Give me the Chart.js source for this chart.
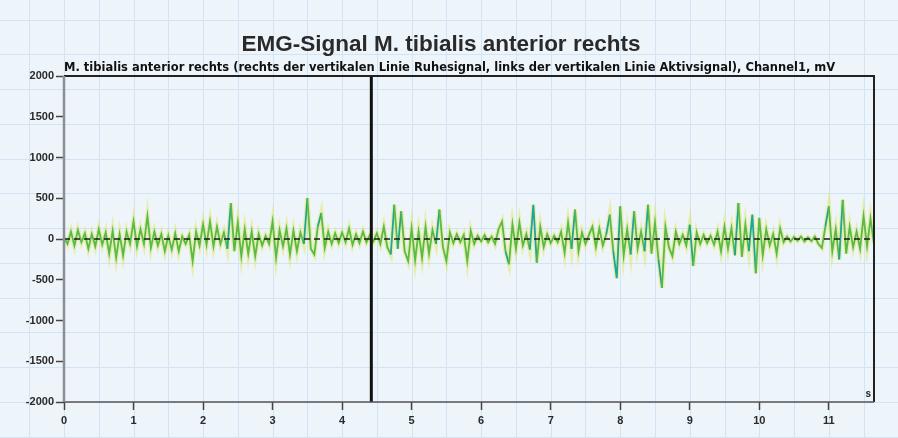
<!DOCTYPE html>
<html>
<head>
<meta charset="utf-8">
<script src="https://cdn.jsdelivr.net/npm/chart.js@4.4.1/dist/chart.umd.min.js"></script>
<style>
  html, body { margin: 0; padding: 0; background: #edf4fa; }
  #wrap { width: 898px; height: 438px; }
</style>
</head>
<body>
<div id="wrap"><canvas id="emgChart"></canvas></div>
<script>
const chartTitle = "EMG-Signal M. tibialis anterior rechts";
const chartSubtitle = "M. tibialis anterior rechts (rechts der vertikalen Linie Ruhesignal, links der vertikalen Linie Aktivsignal), Channel1, mV";
const xUnit = "s";

// EMG samples, one every 0.05 s (one row = 1 s)
const sampleStep = 0.05;
const emgValues = [
  20, -60, 90, -80, 110, -40, 70, -120, 60, -90, 120, -70, 80, -180, 100, -230, 60, -200, 90, -60,
  215, -90, 120, -60, 280, -110, 90, -80, 60, -150, 40, -130, 70, -150, 30, -60, 50, -270, 90, -80,
  180, -70, 215, -90, 150, -60, 80, -120, 440, -150, 200, -210, 120, -180, 90, -210, 60, -80, 40, -60,
  215, -230, 110, -90, 130, -190, 100, -150, 80, -60, 500, -120, -190, 150, 320, -110, 90, -60, 70, -50,
  80, -40, 130, -70, 60, -50, 90, -40, 50, -30, 70, -60, 150, -100, -190, 420, -120, 340, -150, -270,
  130, -260, 90, -230, 150, -180, 110, -60, 360, -100, -270, 80, -50, 60, -40, 50, -270, 100, -60, 40,
  -30, 50, -40, 30, -60, 120, 215, -150, -310, 180, -120, 200, -80, 60, -130, 420, -290, 150, -100, 60,
  -50, 40, -40, 90, -170, 200, -120, 360, -150, 80, -60, 50, 150, -100, 130, -80, 60, 300, -150, -480,
  400, -200, 120, -190, 340, -120, 90, -150, 420, -180, 200, -250, -600, 150, -100, -210, 90, -60, 50, -80,
  175, -330, 80, -60, 50, -50, 40, -70, 90, -150, 150, -120, 130, -200, 440, -220, 180, -150, 300, -420,
  260, -200, 120, -80, 60, -180, 130, -40, 30, -30, 25, -20, 30, -30, 20, -25, 30, -60, -110, 150,
  400, -150, 120, -250, 480, -180, 150, -100, 90, -120, 280, -90, 250, -60
];
const xTicks = [0, 1, 2, 3, 4, 5, 6, 7, 8, 9, 10, 11];
const yTicks = [-2000, -1500, -1000, -500, 0, 500, 1000, 1500, 2000];
const xRange = [0, 11.65];
const yRange = [-2000, 2000];
const markerTime = 4.42; // boundary active / rest signal

const emgPoints = emgValues.map((v, i) => ({ x: +(i * sampleStep).toFixed(2), y: v }));
const baselinePoints = xRange.map(t => ({ x: t, y: 0 }));
const markerPoints = yRange.map(v => ({ x: markerTime, y: v }));

const fontFamily = "'Liberation Sans', Arial, sans-serif";

const paperGrid = {
  id: 'paperGrid',
  beforeDraw(chart) {
    const { ctx, chartArea, width, height } = chart;
    const x = chart.scales.x;
    const step = x.getPixelForValue(0.5) - x.getPixelForValue(0);
    ctx.save();
    ctx.fillStyle = '#eef5fa';
    ctx.fillRect(0, 0, width, height);
    ctx.strokeStyle = '#d2e4f3';
    ctx.lineWidth = 1;
    ctx.beginPath();
    for (let px = chartArea.left % step; px < width; px += step) {
      ctx.moveTo(Math.round(px) + 0.5, 0);
      ctx.lineTo(Math.round(px) + 0.5, height);
    }
    for (let py = chartArea.bottom % step; py < height; py += step) {
      ctx.moveTo(0, Math.round(py) + 0.5);
      ctx.lineTo(width, Math.round(py) + 0.5);
    }
    ctx.stroke();
    ctx.restore();
  },
  afterDraw(chart) {
    const { ctx, chartArea: a } = chart;
    ctx.save();
    ctx.lineWidth = 2;
    ctx.strokeStyle = '#222';
    ctx.beginPath();
    ctx.moveTo(a.left, a.top); ctx.lineTo(a.right, a.top); ctx.lineTo(a.right, a.bottom);
    ctx.stroke();
    ctx.strokeStyle = '#555';
    ctx.lineWidth = 1.5;
    ctx.beginPath();
    ctx.moveTo(a.left, a.bottom); ctx.lineTo(a.right, a.bottom);
    ctx.stroke();
    ctx.strokeStyle = '#8a8f96';
    ctx.lineWidth = 2.5;
    ctx.beginPath();
    ctx.moveTo(a.left, a.top); ctx.lineTo(a.left, a.bottom);
    ctx.stroke();
    ctx.fillStyle = '#222';
    ctx.font = "bold 10px " + fontFamily;
    ctx.textAlign = 'right';
    ctx.textBaseline = 'bottom';
    ctx.fillText(xUnit, a.right - 3, a.bottom - 3);
    ctx.restore();
  }
};

const ctx = document.getElementById('emgChart').getContext('2d');

new Chart(ctx, {
  type: 'line',
  data: {
    datasets: [
      {
        label: 'Marker',
        data: markerPoints,
        borderColor: '#111',
        borderWidth: 3,
        pointRadius: 0,
        order: 0
      },
      {
        label: 'Baseline',
        data: baselinePoints,
        borderColor: '#1a1a1a',
        borderWidth: 1.5,
        borderDash: [6, 4],
        pointRadius: 0,
        order: 1
      },
      {
        label: 'EMG',
        data: emgPoints,
        borderColor: '#58bb48',
        borderWidth: 1.8,
        pointRadius: 0,
        tension: 0,
        segment: {
          borderColor: c => Math.abs(c.p1.parsed.y) > 280 ? '#1fa596' : undefined
        },
        order: 2
      },
      {
        label: 'EMG glow',
        data: emgPoints,
        borderColor: 'rgba(222, 228, 80, 0.45)',
        borderWidth: 4.5,
        pointRadius: 0,
        tension: 0,
        order: 3
      }
    ]
  },
  options: {
    responsive: true,
    maintainAspectRatio: false,
    animation: false,
    layout: { padding: { left: 8, right: 24, top: 31, bottom: 6 } },
    scales: {
      x: {
        type: 'linear',
        min: xRange[0],
        max: xRange[1],
        afterBuildTicks: s => { s.ticks = xTicks.map(v => ({ value: v })); },
        afterFit: s => { s.height = 30; },
        grid: { drawOnChartArea: false, drawTicks: true, tickLength: 8, tickColor: '#444', tickWidth: 1.5 },
        border: { display: false },
        ticks: { color: '#2a2a2a', padding: 4, maxRotation: 0, font: { family: fontFamily, size: 11, weight: 'bold' } }
      },
      xTop: {
        type: 'linear',
        position: 'top',
        min: xRange[0],
        max: xRange[1],
        afterFit: s => { s.height = 15; },
        grid: { display: false },
        border: { display: false },
        ticks: { display: false },
        title: {
          display: true,
          text: chartSubtitle,
          align: 'start',
          color: '#111',
          padding: { top: 0, bottom: 0 },
          font: { family: "'DejaVu Sans', sans-serif", size: 11.5, weight: 'bold' }
        }
      },
      y: {
        min: yRange[0],
        max: yRange[1],
        afterBuildTicks: s => { s.ticks = yTicks.map(v => ({ value: v })); },
        afterFit: s => { s.width = 56; },
        grid: { drawOnChartArea: false, drawTicks: true, tickLength: 8, tickColor: '#444', tickWidth: 1.5 },
        border: { display: false },
        ticks: {
          color: '#2a2a2a',
          padding: 2,
          callback: v => String(v),
          font: { family: fontFamily, size: 11, weight: 'bold' }
        }
      }
    },
    plugins: {
      legend: { display: false },
      tooltip: { enabled: false },
      title: {
        display: true,
        text: chartTitle,
        color: '#2a2a2a',
        padding: { top: 0, bottom: 3 },
        font: { family: fontFamily, size: 22.5, weight: 'bold' }
      }
    }
  },
  plugins: [paperGrid]
});
</script>
</body>
</html>
